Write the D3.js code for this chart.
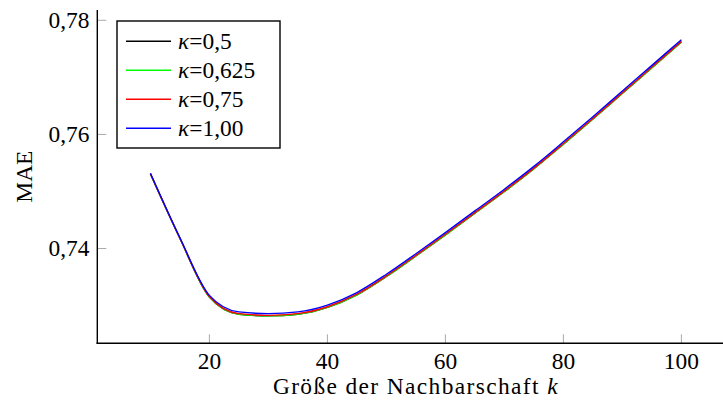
<!DOCTYPE html>
<html>
<head>
<meta charset="utf-8">
<script src="https://cdn.jsdelivr.net/npm/d3@7/dist/d3.min.js"></script>
<style>
  html, body { margin: 0; padding: 0; background: #fff; }
  svg { display: block; }
  svg text { font-family: "Liberation Serif", "DejaVu Serif", "Noto Serif", "Tinos", "Times New Roman", "Times", "FreeSerif", "Nimbus Roman", serif; }
</style>
</head>
<body>
<svg id="chart" width="723" height="403"></svg>
<script>
// ---- data ----
const kValues = [10, 15, 20, 25, 30, 35, 40, 45, 50, 55, 60, 65, 70, 75, 80, 85, 90, 95, 100];
const maeKappa050 = [0.7531, 0.7418, 0.7315, 0.7285, 0.7282, 0.7285, 0.7297, 0.7319, 0.7351, 0.7387, 0.7424, 0.7462, 0.7500, 0.7540, 0.7583, 0.7627, 0.7672, 0.7717, 0.7762];
const maeKappa0625 = [0.7531, 0.7418, 0.7315, 0.7285, 0.7282, 0.7285, 0.7297, 0.7319, 0.7351, 0.7387, 0.7424, 0.7462, 0.7500, 0.7540, 0.7583, 0.7627, 0.7672, 0.7717, 0.7762];
const maeKappa075 = [0.7531, 0.7418, 0.7316, 0.7286, 0.7283, 0.7286, 0.7298, 0.7320, 0.7352, 0.7388, 0.7425, 0.7463, 0.7501, 0.7541, 0.7584, 0.7628, 0.7673, 0.7718, 0.7763];
const maeKappa100 = [0.7532, 0.7419, 0.7318, 0.7289, 0.7286, 0.7289, 0.7301, 0.7323, 0.7355, 0.7391, 0.7428, 0.7466, 0.7504, 0.7544, 0.7587, 0.7631, 0.7676, 0.7721, 0.7766];
const seriesNames = ["0,5", "0,625", "0,75", "1,00"];
const seriesColors = ["#000000", "#00ff00", "#ff0000", "#0000ff"];
const xTicks = [20, 40, 60, 80, 100];
const yTicks = [0.74, 0.76, 0.78];
const xLabel = "Größe der Nachbarschaft ";
const xLabelVar = "k";
const yLabel = "MAE";

const seriesValues = [maeKappa050, maeKappa0625, maeKappa075, maeKappa100];

// ---- layout ----
const svg = d3.select("#chart");
const x = d3.scaleLinear().domain([1, 109]).range([97.3, 734.5]);
const y = d3.scaleLinear().domain([0.7234, 0.7818]).range([343.3, 10]);
const fmt = v => d3.format(".2f")(v).replace(".", ",");

// calibrate font size so "0,78" is ~41px wide (as in the reference)
const probe = svg.append("text").attr("font-size", 22.5).text("0,78");
const pw = probe.node().getComputedTextLength();
probe.remove();
const fs = Math.max(16, Math.min(26, 22.5 * 41 / (pw || 41)));

// ticks (gray, inward)
const tickLen = 9;
svg.append("g").selectAll("line").data(xTicks).join("line")
  .attr("x1", d => x(d)).attr("x2", d => x(d))
  .attr("y1", y.range()[0]).attr("y2", y.range()[0] - tickLen)
  .attr("stroke", "#a8a8a8").attr("stroke-width", 1);
svg.append("g").selectAll("line").data(yTicks).join("line")
  .attr("x1", x.range()[0]).attr("x2", x.range()[0] + tickLen)
  .attr("y1", d => y(d)).attr("y2", d => y(d))
  .attr("stroke", "#a8a8a8").attr("stroke-width", 1);

// tick labels
svg.append("g").selectAll("text").data(xTicks).join("text")
  .attr("x", d => x(d)).attr("y", 368.5)
  .attr("text-anchor", "middle").attr("font-size", fs)
  .text(d => d);
svg.append("g").selectAll("text").data(yTicks).join("text")
  .attr("x", 89.5).attr("y", d => y(d) + 7.5)
  .attr("text-anchor", "end").attr("font-size", fs)
  .text(d => fmt(d));

// curves
const line = d3.line()
  .x(d => x(d[0])).y(d => y(d[1]))
  .curve(d3.curveMonotoneX);
seriesValues.forEach((vals, i) => {
  svg.append("path")
    .datum(kValues.map((k, j) => [k, vals[j]]))
    .attr("d", line)
    .attr("fill", "none")
    .attr("stroke", seriesColors[i])
    .attr("stroke-width", 1.4)
    .attr("stroke-linejoin", "round");
});

// axis lines
svg.append("line")
  .attr("x1", x.range()[0]).attr("x2", x.range()[0])
  .attr("y1", y.range()[1]).attr("y2", y.range()[0] + 0.7)
  .attr("stroke", "#000").attr("stroke-width", 1.4);
svg.append("line")
  .attr("x1", x.range()[0] - 0.7).attr("x2", x.range()[1])
  .attr("y1", y.range()[0]).attr("y2", y.range()[0])
  .attr("stroke", "#000").attr("stroke-width", 1.4);

// axis labels
const xl = svg.append("text")
  .attr("x", (x.range()[0] + x.range()[1]) / 2).attr("y", 394)
  .attr("text-anchor", "middle").attr("font-size", fs);
xl.append("tspan").text(xLabel);
xl.append("tspan").attr("font-style", "italic").text(xLabelVar);
const xlw = xl.node().getComputedTextLength();
const nChars = (xLabel + xLabelVar).length;
const ls = Math.max(-1, Math.min(3, (286 - xlw) / nChars));
xl.attr("letter-spacing", ls);

svg.append("text")
  .attr("transform", "translate(32," + ((y.range()[0] + y.range()[1]) / 2) + ") rotate(-90)")
  .attr("text-anchor", "middle").attr("font-size", fs)
  .text(yLabel);

// legend
const lg = svg.append("g");
lg.append("rect")
  .attr("x", 117).attr("y", 21).attr("width", 163).attr("height", 127)
  .attr("fill", "#fff").attr("stroke", "#000").attr("stroke-width", 1.4);
seriesNames.forEach((name, i) => {
  const cy = 41.3 + i * 29;
  lg.append("line")
    .attr("x1", 126).attr("x2", 171).attr("y1", cy).attr("y2", cy)
    .attr("stroke", seriesColors[i]).attr("stroke-width", 1.4);
  const t = lg.append("text").attr("x", 178).attr("y", cy + 7.3).attr("font-size", fs);
  t.append("tspan").attr("font-style", "italic").text("κ");
  t.append("tspan").text("=" + name);
});
</script>
</body>
</html>
